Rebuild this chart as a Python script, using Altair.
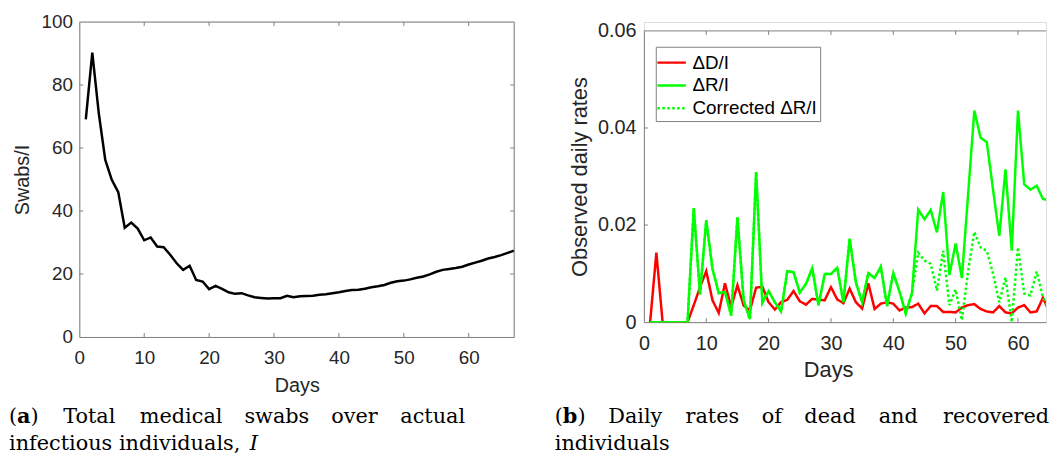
import altair as alt
import pandas as pd

# ---------------- data ----------------
days = list(range(1, 68))

swabs_per_i = [69.1, 90.3, 71.0, 56.2, 49.9, 46.0, 34.7, 36.3, 34.4, 30.7,
               31.6, 28.7, 28.5, 26.1, 23.4, 21.3, 22.6, 18.1, 17.6, 15.2,
               16.2, 15.3, 14.2, 13.7, 13.9, 13.2, 12.6, 12.4, 12.2, 12.3,
               12.3, 13.1, 12.6, 12.9, 13.0, 13.1, 13.4, 13.6, 13.9, 14.2,
               14.6, 14.9, 15.0, 15.3, 15.8, 16.1, 16.5, 17.2, 17.7, 17.9,
               18.3, 18.8, 19.2, 19.9, 20.7, 21.3, 21.6, 21.9, 22.3, 23.0,
               23.6, 24.2, 24.9, 25.4, 26.0, 26.7, 27.4]

delta_d = [0, 0.0143, 0, 0, 0, 0, 0, 0.0035, 0.0072, 0.0105,
           0.0045, 0.0019, 0.0080, 0.0031, 0.0076, 0.0034, 0.0024, 0.0071, 0.0073, 0.0041,
           0.0026, 0.0041, 0.0046, 0.0064, 0.0043, 0.0036, 0.0048, 0.0046, 0.0045, 0.0072,
           0.0047, 0.0039, 0.0069, 0.0041, 0.0028, 0.0080, 0.0027, 0.0038, 0.0041, 0.0038,
           0.0024, 0.0030, 0.0031, 0.0038, 0.0018, 0.0033, 0.0033, 0.0021, 0.0021, 0.0020,
           0.0030, 0.0035, 0.0037, 0.0027, 0.0022, 0.0020, 0.0033, 0.0020, 0.0018, 0.0030,
           0.0035, 0.0020, 0.0022, 0.0050, 0.0022, 0.0018, 0.0019]

delta_r = [0, 0, 0, 0, 0, 0, 0, 0.0235, 0.0057, 0.0210,
           0.0110, 0.0060, 0.0062, 0.0014, 0.0216, 0.0045, 0.0006, 0.0309, 0.0040, 0.0064,
           0.0041, 0.0022, 0.0105, 0.0103, 0.0061, 0.0079, 0.0111, 0.0035, 0.0099, 0.0099,
           0.0112, 0.0041, 0.0172, 0.0082, 0.0041, 0.0101, 0.0091, 0.0114, 0.0033, 0.0101,
           0.0063, 0.0018, 0.0060, 0.0232, 0.0212, 0.0231, 0.0185, 0.0268, 0.0097, 0.0162,
           0.0091, 0.0263, 0.0436, 0.0380, 0.0371, 0.0273, 0.0178, 0.0315, 0.0147, 0.0436,
           0.0284, 0.0273, 0.0281, 0.0254, 0.0251, 0.0259, 0.0265]

corrected_r = [0, 0, 0, 0, 0, 0, 0, 0.0235, 0.0057, 0.0210,
               0.0110, 0.0060, 0.0062, 0.0014, 0.0216, 0.0045, 0.0006, 0.0309, 0.0040, 0.0064,
               0.0041, 0.0022, 0.0105, 0.0103, 0.0061, 0.0079, 0.0111, 0.0035, 0.0099, 0.0099,
               0.0112, 0.0041, 0.0172, 0.0082, 0.0041, 0.0101, 0.0091, 0.0114, 0.0033, 0.0101,
               0.0063, 0.0018, 0.0060, 0.0143, 0.0127, 0.0120, 0.0065, 0.0147, 0.0035, 0.0067,
               0.0004, 0.0105, 0.0186, 0.0154, 0.0147, 0.0100, 0.0041, 0.0092, 0.0000, 0.0154,
               0.0059, 0.0055, 0.0104, 0.0052, 0.0024, 0.0021, 0.0020]

x_ticks = [0, 10, 20, 30, 40, 50, 60]
y_ticks_a = [0, 20, 40, 60, 80, 100]
y_ticks_b = [0, 0.02, 0.04, 0.06]

series_names = ["ΔD/I", "ΔR/I", "Corrected ΔR/I"]
series_colors = ["#ff0000", "#00ff00", "#00ff00"]
series_dashes = [[1, 0], [1, 0], [2.5, 2.5]]

caption_a1 = ["Total", "medical", "swabs", "over", "actual"]
caption_a2 = "infectious individuals,"
caption_b1 = ["Daily", "rates", "of", "dead", "and", "recovered"]
caption_b2 = "individuals"

# ---------------- styling ----------------
SANS = "Liberation Sans"
SERIF = "DejaVu Serif"
GRAY = "#808080"
TXT = "#262626"
CAP_SIZE = 21
CAP_Y1, CAP_Y2 = 424, 451   # caption baselines on the page

W_A, H_A = 439, 318
W_B = 406                     # panel (b) runs to the right edge of the window
B_TOP, B_BOTTOM = 9, 303      # panel (b) plot rows inside its 303 px tall view
H_B = B_BOTTOM


def axis_style(**kw):
    return alt.Axis(grid=False, ticks=False, tickSize=0, domain=True,
                    domainColor=GRAY, domainWidth=1,
                    labelColor=TXT, titleColor=TXT, labelFont=SANS, titleFont=SANS,
                    titleFontWeight="normal", labelFlush=False, labelOverlap=False, **kw)


def blank():
    return alt.Chart(alt.Data(values=[{"k": 1}]))


def word(text, x, y, weight="normal", style="normal"):
    return alt.Chart(alt.Data(values=[{"w": text}])).mark_text(
        align="left", baseline="alphabetic", font=SERIF, fontSize=CAP_SIZE,
        fontWeight=weight, fontStyle=style, color="black"
    ).encode(text="w:N", x=alt.value(x), y=alt.value(y))


def spacer(y):
    return blank().mark_rule(opacity=0, strokeOpacity=0).encode(
        x=alt.value(0), x2=alt.value(1), y=alt.value(y))


tick_rule = dict(color=GRAY, strokeWidth=1)

# ---------------- panel (a) ----------------
xa_scale = alt.Scale(domain=[0, 67], nice=False, zero=False)
ya_scale = alt.Scale(domain=[0, 100], nice=False)
xa_axis = axis_style(values=x_ticks, title="Days", labelFontSize=19, titleFontSize=20,
                     labelPadding=12, titlePadding=8)
ya_axis = axis_style(values=y_ticks_a, title="Swabs/I", labelFontSize=19, titleFontSize=20,
                     labelPadding=7, titlePadding=9)
xa = alt.X("day:Q", scale=xa_scale, axis=xa_axis)
ya = alt.Y("swabs:Q", scale=ya_scale, axis=ya_axis)

df_a = pd.DataFrame({"day": days, "swabs": swabs_per_i})
line_a = alt.Chart(df_a).mark_line(color="black", strokeWidth=2.5).encode(x=xa, y=ya)

tx_a = pd.DataFrame({"day": x_ticks[1:]})
ty_a = pd.DataFrame({"swabs": y_ticks_a[1:-1]})
frame_a = [
    blank().mark_rule(**tick_rule).encode(x=alt.value(0), x2=alt.value(W_A), y=alt.value(0)),
    blank().mark_rule(**tick_rule).encode(x=alt.value(W_A), y=alt.value(0), y2=alt.value(H_A)),
    alt.Chart(tx_a).mark_rule(**tick_rule).encode(x=xa, y=alt.value(H_A), y2=alt.value(H_A - 4)),
    alt.Chart(tx_a).mark_rule(**tick_rule).encode(x=xa, y=alt.value(0), y2=alt.value(4)),
    alt.Chart(ty_a).mark_rule(**tick_rule).encode(y=ya, x=alt.value(0), x2=alt.value(4)),
    alt.Chart(ty_a).mark_rule(**tick_rule).encode(y=ya, x=alt.value(W_A), x2=alt.value(W_A - 4)),
]

OXA, OYA = 79, 19  # plot origin of panel (a) on the page
cap_a = [
    word("(", 8 - OXA, CAP_Y1 - OYA),
    word("a", 16.2 - OXA, CAP_Y1 - OYA, weight="bold"),
    word(")", 29.8 - OXA, CAP_Y1 - OYA),
]
for w, px in zip(caption_a1, [62.7, 140, 245.7, 333.4, 403]):
    cap_a.append(word(w, px - OXA, CAP_Y1 - OYA))
cap_a.append(word(caption_a2, 8 - OXA, CAP_Y2 - OYA))
cap_a.append(word("I", 251 - OXA, CAP_Y2 - OYA, style="italic"))

panel_a = alt.layer(line_a, *frame_a, *cap_a, spacer(-11)).properties(width=W_A, height=H_A)

# ---------------- panel (b) ----------------
xb_scale = alt.Scale(domain=[0, 64.5], nice=False, zero=False)
yb_scale = alt.Scale(domain=[0, 0.06], nice=False, range=[B_BOTTOM, B_TOP])
xb_axis = axis_style(values=x_ticks, title="Days", labelFontSize=20, titleFontSize=22,
                     labelPadding=12, titlePadding=6, titleX=186)
yb_axis = axis_style(values=y_ticks_b, title="Observed daily rates", labelFontSize=20,
                     titleFontSize=22, labelPadding=8, titlePadding=6,
                     labelExpr="datum.value == 0 ? '0' : format(datum.value, '.2f')")
xb = alt.X("day:Q", scale=xb_scale, axis=xb_axis)
yb = alt.Y("value:Q", scale=yb_scale, axis=yb_axis)

legend_b = alt.Legend(orient="none", legendX=12, legendY=25,
                      symbolType="M-1.25,0H1.25", symbolSize=529,
                      symbolStrokeWidth=2.5, symbolFillColor="transparent",
                      labelFontSize=19, labelFont=SANS, labelColor="black",
                      strokeColor=GRAY, fillColor="white", padding=3, rowPadding=-2,
                      labelOffset=8, labelLimit=300)
color_enc = alt.Color("series:N", scale=alt.Scale(domain=series_names, range=series_colors),
                      legend=legend_b, title=None)
dash_enc = alt.StrokeDash("series:N", scale=alt.Scale(domain=series_names, range=series_dashes),
                          legend=legend_b, title=None)

rows = []
for name, vals in zip(series_names, [delta_d, delta_r, corrected_r]):
    for d, v in zip(days, vals):
        rows.append({"day": d, "value": v, "series": name})
df_b = pd.DataFrame(rows)

lines_b = [
    alt.Chart(df_b).transform_filter(alt.datum.series == name)
    .mark_line(strokeWidth=2.5, clip=True)
    .encode(x=xb, y=yb, color=color_enc, strokeDash=dash_enc)
    for name in series_names
]

tx_b = pd.DataFrame({"day": x_ticks[1:]})
ty_b = pd.DataFrame({"value": y_ticks_b[1:-1]})
frame_b = [
    blank().mark_rule(**tick_rule).encode(x=alt.value(0), x2=alt.value(W_B), y=alt.value(B_TOP)),
    alt.Chart(tx_b).mark_rule(**tick_rule).encode(x=xb, y=alt.value(B_BOTTOM), y2=alt.value(B_BOTTOM - 4)),
    alt.Chart(tx_b).mark_rule(**tick_rule).encode(x=xb, y=alt.value(B_TOP), y2=alt.value(B_TOP + 4)),
    alt.Chart(ty_b).mark_rule(**tick_rule).encode(y=yb, x=alt.value(0), x2=alt.value(4)),
]

OXB, OYB = 643, 19
cap_b = [
    word("(", 553 - OXB, CAP_Y1 - OYB),
    word("b", 561.2 - OXB, CAP_Y1 - OYB, weight="bold"),
    word(")", 576 - OXB, CAP_Y1 - OYB),
]
for w, px in zip(caption_b1, [607, 685, 762, 805, 880, 945]):
    cap_b.append(word(w, px - OXB, CAP_Y1 - OYB))
cap_b.append(word(caption_b2, 553 - OXB, CAP_Y2 - OYB))

panel_b = alt.layer(*frame_b, *lines_b, *cap_b).properties(width=W_B, height=H_B)

chart = (
    alt.hconcat(panel_a, panel_b, spacing=34)
    .resolve_scale(color="independent", strokeDash="independent")
    .resolve_legend(color="independent", strokeDash="independent")
    .properties(padding={"left": 0, "top": 0, "right": 0, "bottom": -3})
    .configure_view(strokeWidth=0)
    .configure(font=SANS)
)

chart.save("out.html", embed_options={"renderer": "svg", "actions": False})
